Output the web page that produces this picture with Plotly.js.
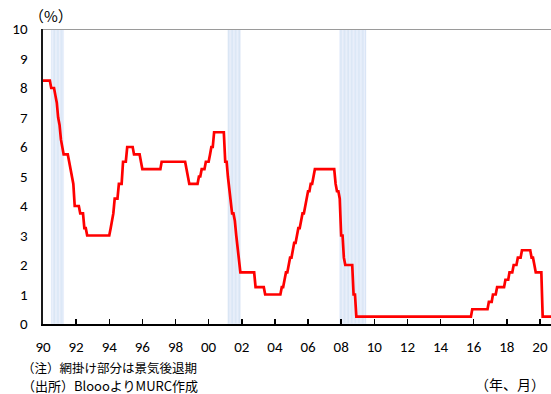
<!DOCTYPE html>
<html>
<head>
<meta charset="utf-8">
<script src="https://cdn.plot.ly/plotly-3.0.1.min.js"></script>
<style>
  html, body { margin: 0; padding: 0; background: #fff; }
  #chart { width: 551px; height: 394px; }
</style>
</head>
<body>
<div id="chart"></div>
<script>
// Monthly policy rate (%), one row per year, starting January 1990
const startYear = 1990;
const rates = [
  /*1990*/ 8.25,8.25,8.25,8.25,8.25,8.25,8.0,8.0,8.0,7.75,7.5,7.0,
  /*1991*/ 6.75,6.25,6.0,5.75,5.75,5.75,5.75,5.5,5.25,5.0,4.75,4.0,
  /*1992*/ 4.0,4.0,4.0,3.75,3.75,3.75,3.25,3.25,3.0,3.0,3.0,3.0,
  /*1993*/ 3.0,3.0,3.0,3.0,3.0,3.0,3.0,3.0,3.0,3.0,3.0,3.0,
  /*1994*/ 3.0,3.25,3.5,3.75,4.25,4.25,4.25,4.75,4.75,4.75,5.5,5.5,
  /*1995*/ 5.5,6.0,6.0,6.0,6.0,6.0,5.75,5.75,5.75,5.75,5.75,5.5,
  /*1996*/ 5.25,5.25,5.25,5.25,5.25,5.25,5.25,5.25,5.25,5.25,5.25,5.25,
  /*1997*/ 5.25,5.25,5.5,5.5,5.5,5.5,5.5,5.5,5.5,5.5,5.5,5.5,
  /*1998*/ 5.5,5.5,5.5,5.5,5.5,5.5,5.5,5.5,5.25,5.0,4.75,4.75,
  /*1999*/ 4.75,4.75,4.75,4.75,4.75,5.0,5.0,5.25,5.25,5.25,5.5,5.5,
  /*2000*/ 5.5,5.75,6.0,6.0,6.5,6.5,6.5,6.5,6.5,6.5,6.5,6.5,
  /*2001*/ 5.5,5.5,5.0,4.5,4.0,3.75,3.75,3.5,3.0,2.5,2.0,1.75,
  /*2002*/ 1.75,1.75,1.75,1.75,1.75,1.75,1.75,1.75,1.75,1.75,1.25,1.25,
  /*2003*/ 1.25,1.25,1.25,1.25,1.25,1.0,1.0,1.0,1.0,1.0,1.0,1.0,
  /*2004*/ 1.0,1.0,1.0,1.0,1.0,1.25,1.25,1.5,1.75,1.75,2.0,2.25,
  /*2005*/ 2.25,2.5,2.75,2.75,3.0,3.25,3.25,3.5,3.75,3.75,4.0,4.25,
  /*2006*/ 4.5,4.5,4.75,4.75,5.0,5.25,5.25,5.25,5.25,5.25,5.25,5.25,
  /*2007*/ 5.25,5.25,5.25,5.25,5.25,5.25,5.25,5.25,4.75,4.5,4.5,4.25,
  /*2008*/ 3.0,3.0,2.25,2.0,2.0,2.0,2.0,2.0,2.0,1.0,1.0,0.25,
  /*2009*/ 0.25,0.25,0.25,0.25,0.25,0.25,0.25,0.25,0.25,0.25,0.25,0.25,
  /*2010*/ 0.25,0.25,0.25,0.25,0.25,0.25,0.25,0.25,0.25,0.25,0.25,0.25,
  /*2011*/ 0.25,0.25,0.25,0.25,0.25,0.25,0.25,0.25,0.25,0.25,0.25,0.25,
  /*2012*/ 0.25,0.25,0.25,0.25,0.25,0.25,0.25,0.25,0.25,0.25,0.25,0.25,
  /*2013*/ 0.25,0.25,0.25,0.25,0.25,0.25,0.25,0.25,0.25,0.25,0.25,0.25,
  /*2014*/ 0.25,0.25,0.25,0.25,0.25,0.25,0.25,0.25,0.25,0.25,0.25,0.25,
  /*2015*/ 0.25,0.25,0.25,0.25,0.25,0.25,0.25,0.25,0.25,0.25,0.25,0.5,
  /*2016*/ 0.5,0.5,0.5,0.5,0.5,0.5,0.5,0.5,0.5,0.5,0.5,0.75,
  /*2017*/ 0.75,0.75,1.0,1.0,1.0,1.25,1.25,1.25,1.25,1.25,1.25,1.5,
  /*2018*/ 1.5,1.5,1.75,1.75,1.75,2.0,2.0,2.0,2.25,2.25,2.25,2.5,
  /*2019*/ 2.5,2.5,2.5,2.5,2.5,2.5,2.25,2.25,2.0,1.75,1.75,1.75,
  /*2020*/ 1.75,1.75,0.25,0.25,0.25,0.25,0.25,0.25,0.25
];

// Recession periods (first month, last month)
const recessionStarts = ['1990-07', '2001-03', '2007-12'];
const recessionEnds   = ['1991-03', '2001-11', '2009-06'];
const recessionHeight = 10;

const yTickVals = [0,1,2,3,4,5,6,7,8,9,10];

const noteText = '（注）網掛け部分は景気後退期';
const sourceText = '（出所）BloooよりMURC作成';
const unitText = '（%）';
const xUnitText = '（年、月）';

function pad(n){ return (n < 10 ? '0' : '') + n; }
function monthStr(i){ // i-th month since Jan of startYear
  const y = startYear + Math.floor(i / 12);
  const m = (i % 12) + 1;
  return y + '-' + pad(m) + '-01';
}
const dates = rates.map((_, i) => monthStr(i));

// Expand recession periods into monthly list
const recMonths = [];
recessionStarts.forEach((s, k) => {
  let [y, m] = s.split('-').map(Number);
  const [ye, me] = recessionEnds[k].split('-').map(Number);
  while (y < ye || (y === ye && m <= me)) {
    recMonths.push(y + '-' + pad(m) + '-01');
    m++; if (m > 12) { m = 1; y++; }
  }
});

const monthMs = 30.44 * 24 * 3600 * 1000;

const traces = [
  {
    type: 'bar',
    x: recMonths,
    y: recMonths.map(() => recessionHeight),
    width: recMonths.map(() => monthMs),
    offset: 0,
    marker: { color: '#c8daf1', line: { color: '#edf3fb', width: 0.8 } },
    hoverinfo: 'skip',
    showlegend: false
  },
  {
    type: 'scatter',
    mode: 'lines',
    x: dates,
    y: rates,
    line: { color: '#ff0000', width: 2.7 },
    showlegend: false
  }
];

const fontMain = 'Carlito, Lato, "Liberation Sans", sans-serif';
const fontJP = '"Noto Sans CJK JP", sans-serif';

const layout = {
  width: 551,
  height: 394,
  margin: { l: 43, r: 0, t: 29, b: 70 },
  paper_bgcolor: '#ffffff',
  plot_bgcolor: '#ffffff',
  bargap: 0,
  showlegend: false,
  xaxis: {
    type: 'date',
    range: ['1990-01-01', '2020-09-01'],
    tick0: '1990-01-01',
    dtick: 'M24',
    tickformat: '%y',
    ticks: 'inside',
    ticklen: 5,
    tickwidth: 1.5,
    tickcolor: '#000',
    showline: true,
    linecolor: '#000',
    linewidth: 2,
    showgrid: false,
    zeroline: false,
    ticklabelstandoff: 8,
    tickfont: { family: fontMain, size: 15, color: '#000' }
  },
  yaxis: {
    range: [0, 10],
    tickvals: yTickVals,
    ticks: '',
    showline: true,
    linecolor: '#1a1a1a',
    linewidth: 2.5,
    showgrid: false,
    zeroline: false,
    ticklabelstandoff: 10,
    tickfont: { family: fontMain, size: 15, color: '#000' }
  },
  shapes: [
    { type: 'line', xref: 'paper', yref: 'y', x0: 0, x1: 1, y0: 10, y1: 10,
      line: { color: '#9a9a9a', width: 2 } }
  ],
  annotations: [
    { text: unitText, xref: 'paper', yref: 'paper', x: 0.015, y: 1.0, xanchor: 'center', yanchor: 'bottom',
      yshift: 1, showarrow: false, font: { family: fontJP, size: 15, color: '#000' } },
    { text: noteText, xref: 'paper', yref: 'paper', x: -0.043, y: 0, xanchor: 'left', yanchor: 'middle',
      yshift: -43, borderpad: 0, showarrow: false, font: { family: fontJP, size: 12.5, color: '#000' } },
    { text: sourceText, xref: 'paper', yref: 'paper', x: -0.043, y: 0, xanchor: 'left', yanchor: 'middle',
      yshift: -61, borderpad: 0, showarrow: false, font: { family: fontJP, size: 13, color: '#000' } },
    { text: xUnitText, xref: 'paper', yref: 'paper', x: 0.99, y: 0, xanchor: 'right', yanchor: 'middle',
      yshift: -60, borderpad: 0, showarrow: false, font: { family: fontJP, size: 14, color: '#000' } }
  ]
};

Plotly.newPlot('chart', traces, layout, { staticPlot: true, displayModeBar: false });
</script>
</body>
</html>
